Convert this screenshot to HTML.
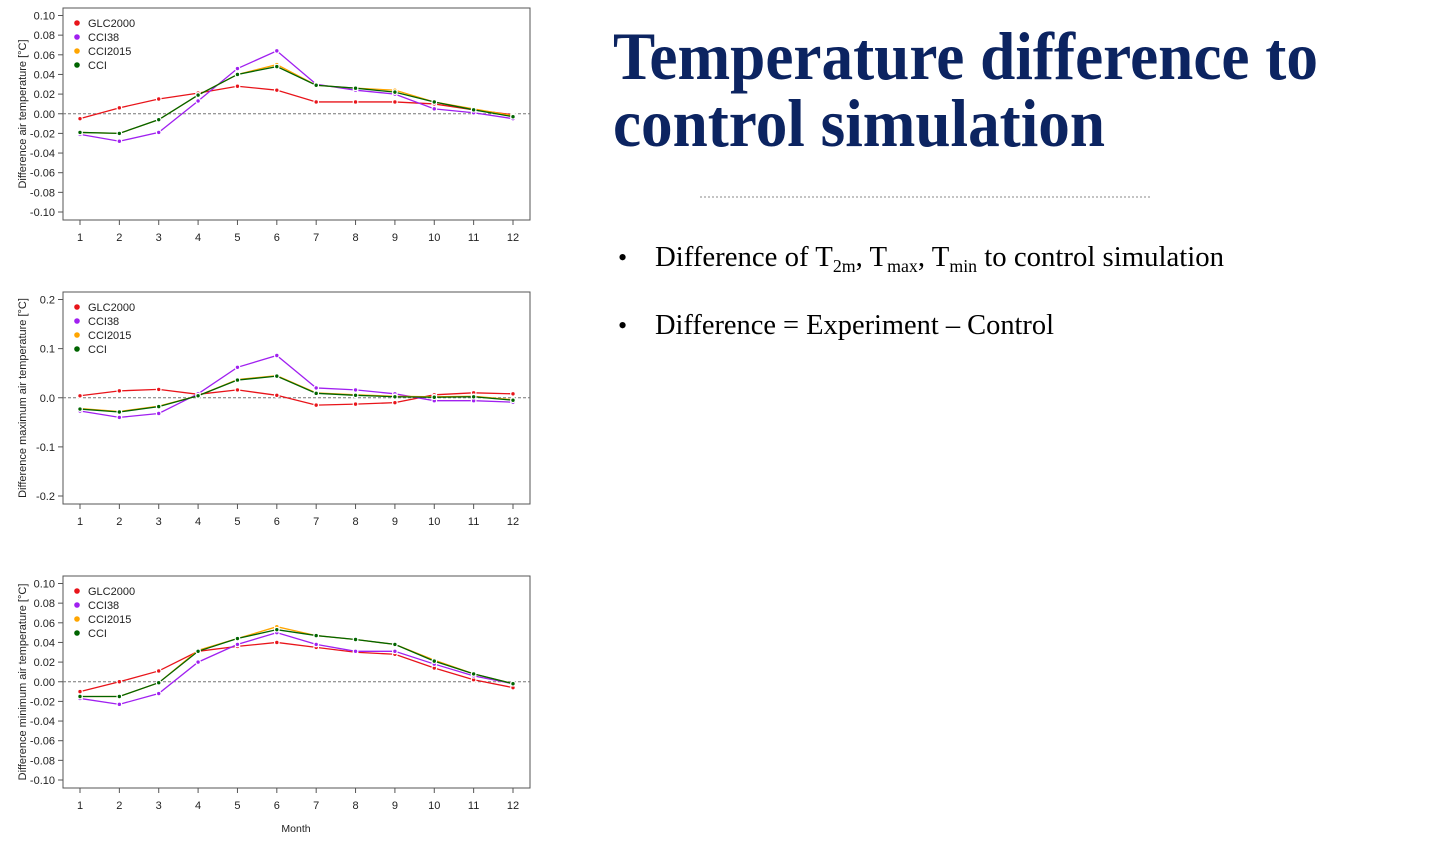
<!DOCTYPE html>
<html><head><meta charset="utf-8"><style>
html,body{margin:0;padding:0;background:#fff;}
svg{display:block;}
.ax{font-family:"Liberation Sans",sans-serif;font-size:11px;fill:#222;}
</style></head><body>
<svg id="root" width="1453" height="845" viewBox="0 0 1453 845" xmlns="http://www.w3.org/2000/svg">
<g id="charts"></g>
<g font-family="'Liberation Serif',serif">
<text x="613" y="79" font-size="68" font-weight="bold" fill="#0c2461" textLength="705" lengthAdjust="spacingAndGlyphs">Temperature difference to</text>
<text x="613" y="146" font-size="68" font-weight="bold" fill="#0c2461" textLength="492" lengthAdjust="spacingAndGlyphs">control simulation</text>
<line x1="700" y1="197" x2="1152" y2="197" stroke="#888" stroke-width="1" stroke-dasharray="2,2"/>
<text x="618" y="266" font-size="26" fill="#000">•</text>
<text x="655" y="266" font-size="29" fill="#000" textLength="569" lengthAdjust="spacingAndGlyphs">Difference of T<tspan font-size="18" dy="6">2m</tspan><tspan dy="-6">, T</tspan><tspan font-size="18" dy="6">max</tspan><tspan dy="-6">, T</tspan><tspan font-size="18" dy="6">min</tspan><tspan dy="-6"> to control simulation</tspan></text>
<text x="618" y="334" font-size="26" fill="#000">•</text>
<text x="655" y="334" font-size="29" fill="#000" textLength="399" lengthAdjust="spacingAndGlyphs">Difference = Experiment – Control</text>
</g>
</svg>
<script>
const months = [1,2,3,4,5,6,7,8,9,10,11,12];
const seriesNames = ["GLC2000","CCI38","CCI2015","CCI"];
const seriesColors = ["#e8141a","#a020f0","#ffa500","#006400"];
const t2mGLC = [-0.005,0.006,0.015,0.021,0.028,0.024,0.012,0.012,0.012,0.010,0.004,-0.001];
const t2mCCI38 = [-0.021,-0.028,-0.019,0.013,0.046,0.064,0.030,0.024,0.020,0.005,0.001,-0.005];
const t2mCCI2015 = [-0.019,-0.020,-0.006,0.019,0.040,0.050,0.029,0.026,0.024,0.012,0.005,-0.002];
const t2mCCI = [-0.019,-0.020,-0.006,0.019,0.040,0.048,0.029,0.026,0.022,0.012,0.004,-0.003];
const tmaxGLC = [0.004,0.014,0.017,0.007,0.016,0.005,-0.015,-0.013,-0.010,0.006,0.010,0.008];
const tmaxCCI38 = [-0.027,-0.040,-0.032,0.008,0.062,0.086,0.020,0.016,0.008,-0.006,-0.006,-0.009];
const tmaxCCI2015 = [-0.022,-0.028,-0.017,0.004,0.037,0.045,0.010,0.006,0.003,0.002,0.003,-0.004];
const tmaxCCI = [-0.023,-0.029,-0.018,0.004,0.036,0.044,0.009,0.005,0.002,0.001,0.002,-0.005];
const tminGLC = [-0.010,0.000,0.011,0.031,0.036,0.040,0.035,0.030,0.028,0.014,0.002,-0.006];
const tminCCI38 = [-0.017,-0.023,-0.012,0.020,0.038,0.050,0.038,0.031,0.031,0.018,0.006,-0.002];
const tminCCI2015 = [-0.015,-0.015,-0.001,0.032,0.044,0.056,0.047,0.043,0.038,0.022,0.008,-0.002];
const tminCCI = [-0.015,-0.015,-0.001,0.031,0.044,0.053,0.047,0.043,0.038,0.021,0.008,-0.002];
const ticksSmall = ["0.10","0.08","0.06","0.04","0.02","0.00","-0.02","-0.04","-0.06","-0.08","-0.10"];
const ticksLarge = ["0.2","0.1","0.0","-0.1","-0.2"];

const NS="http://www.w3.org/2000/svg";
const root=document.getElementById('charts');
function mk(tag,attrs,parent){const e=document.createElementNS(NS,tag);for(const k in attrs)e.setAttribute(k,attrs[k]);parent.appendChild(e);return e;}

const panels=[
 {name:"t2m",top:8,title:"Difference air temperature [°C]",ymax:0.10,ticks:ticksSmall,data:[t2mGLC,t2mCCI38,t2mCCI2015,t2mCCI]},
 {name:"tmax",top:292,title:"Difference maximum air temperature [°C]",ymax:0.2,ticks:ticksLarge,data:[tmaxGLC,tmaxCCI38,tmaxCCI2015,tmaxCCI]},
 {name:"tmin",top:576,title:"Difference minimum air temperature [°C]",ymax:0.10,ticks:ticksSmall,data:[tminGLC,tminCCI38,tminCCI2015,tminCCI]}
];
panels.forEach(p=>{
 const g=mk('g',{},root);
 
 
 const L=63,R=530,T=p.top,B=p.top+212;
 const y0=T+7.5,y1=B-8;
 const ys=v=>y0+(p.ymax-v)/(2*p.ymax)*(y1-y0);
 const xs=m=>80+(m-1)*(513-80)/11;
 const box=mk('rect',{x:L,y:T,width:R-L,height:B-T,fill:'none',stroke:'#555','stroke-width':1},g);
 
 
 const zl=mk('line',{x1:L,x2:R,y1:ys(0),y2:ys(0),stroke:'#777','stroke-dasharray':'3,2','stroke-width':1},g);
 
 
 p.ticks.forEach(t=>{
  const v=parseFloat(t),y=ys(v);
  mk('line',{x1:L-5,x2:L,y1:y,y2:y,stroke:'#555'},g);
  const tx=mk('text',{x:L-8,y:y+4,'text-anchor':'end',class:'ax'},g);
  tx.textContent=t;
  
  
 });
 months.forEach(m=>{
  const x=xs(m);
  mk('line',{x1:x,x2:x,y1:B,y2:B+5,stroke:'#555'},g);
  const tx=mk('text',{x:x,y:B+21,'text-anchor':'middle',class:'ax'},g);
  tx.textContent=m;
  
  
 });
 const yt=mk('text',{x:0,y:0,'text-anchor':'middle',class:'ax',transform:`translate(26,${(T+B)/2}) rotate(-90)`,style:'font-size:11px'},g);
 yt.textContent=p.title;
 
 
 p.data.forEach((vals,si)=>{
  const pts=vals.map((v,i)=>xs(months[i])+','+ys(v)).join(' ');
  const pl=mk('polyline',{points:pts,fill:'none',stroke:seriesColors[si],'stroke-width':1.3},g);
  
  
  vals.forEach((v,i)=>{
   const c=mk('circle',{cx:xs(months[i]),cy:ys(v),r:2.3,fill:seriesColors[si],stroke:'#fff','stroke-width':1.2},g);
   
   
  });
 });
 seriesNames.forEach((n,si)=>{
  const y=T+15+si*14;
  const c=mk('circle',{cx:77,cy:y,r:2.8,fill:seriesColors[si]},g);
  
  
  const tx=mk('text',{x:88,y:y+4,class:'ax'},g);
  tx.textContent=n;
  
  
 });
});
const mt=mk('text',{x:296,y:832,'text-anchor':'middle',class:'ax',style:'font-size:10.5px'},root);
mt.textContent='Month';


</script>
</body></html>
